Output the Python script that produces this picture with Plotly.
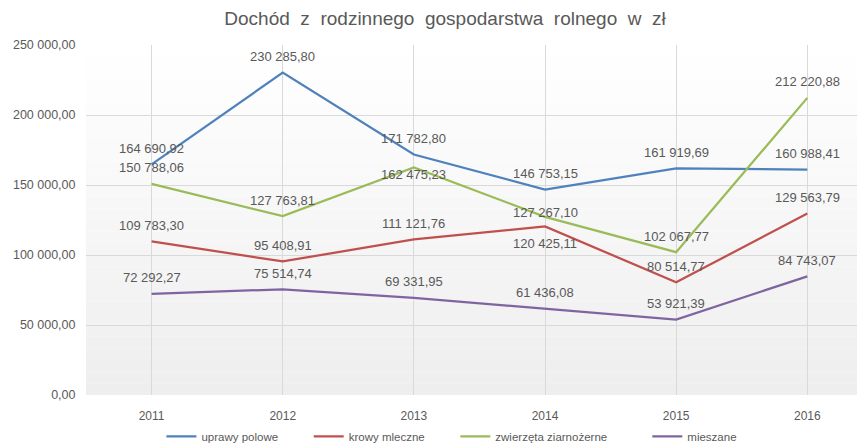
import plotly.graph_objects as go

years = ["2011", "2012", "2013", "2014", "2015", "2016"]
series_names = ["uprawy polowe", "krowy mleczne", "zwierzęta ziarnożerne", "mieszane"]
uprawy_polowe = [164690.92, 230285.80, 171782.80, 146753.15, 161919.69, 160988.41]
krowy_mleczne = [109783.30, 95408.91, 111121.76, 120425.11, 80514.77, 129563.79]
zwierzeta_ziarnozerne = [150788.06, 127763.81, 162475.23, 127267.10, 102067.77, 212220.88]
mieszane = [72292.27, 75514.74, 69331.95, 61436.08, 53921.39, 84743.07]
y_ticks = [0, 50000, 100000, 150000, 200000, 250000]

colors = ["#4F81BD", "#C0504D", "#9BBB59", "#8064A2"]
all_values = [uprawy_polowe, krowy_mleczne, zwierzeta_ziarnozerne, mieszane]

# label vertical offsets (style): default above the point
label_shift = {(1, 3): -17, (2, 3): 4, (2, 2): -7}
# extra legend spacing after each entry (style), in non-breaking spaces
legend_pad = [8, 8, 11, 0]

FONT = "Liberation Sans"
GRAY = "#595959"


def fmt(v):
    return f"{v:,.2f}".replace(",", " ").replace(".", ",")


fig = go.Figure()
annotations = []
xs = list(range(len(years)))
for si, (name, vals, col) in enumerate(zip(series_names, all_values, colors)):
    fig.add_trace(go.Scatter(
        x=xs, y=vals, name=name + "\u00a0" * legend_pad[si], mode="lines",
        line=dict(color=col, width=2.25),
        hovertemplate="%{y:,.2f}<extra>" + name + "</extra>",
    ))
    for i, v in enumerate(vals):
        annotations.append(dict(
            x=xs[i], y=v, xref="x", yref="y", text=fmt(v), showarrow=False,
            yshift=label_shift.get((si, i), 16),
            font=dict(family=FONT, size=13, color=GRAY),
        ))

# subtle vertical gradient background of the plot area (white -> light grey)
shapes = []
steps = 30
for k in range(steps):
    t = k / (steps - 1)
    c = int(round(255 - t * 17))
    shapes.append(dict(
        type="rect", xref="paper", yref="paper", layer="below",
        x0=0, x1=1, y0=1 - (k + 1) / steps, y1=1 - k / steps,
        fillcolor=f"rgb({c},{c},{c})", line=dict(width=0),
    ))

# the page body adds an 8px margin, so the figure is sized to fit the window
fig.update_layout(
    width=857, height=437,
    margin=dict(l=78, r=0, t=37, b=50, autoexpand=False),
    paper_bgcolor="white", plot_bgcolor="white",
    separators=", ",
    title=dict(text="Dochód  z  rodzinnego  gospodarstwa  rolnego  w  zł",
               x=0.51, xanchor="center", xref="container",
               y=0.977, yanchor="middle", yref="container",
               font=dict(family=FONT, size=19, color=GRAY)),
    xaxis=dict(
        tickmode="array", tickvals=xs, ticktext=years, automargin=False,
        range=[-0.5, 5.44], showgrid=True, gridcolor="#D9D9D9", gridwidth=1,
        zeroline=False, showline=False,
        ticks="outside", ticklen=10, tickcolor="rgba(0,0,0,0)",
        tickfont=dict(family=FONT, size=12, color=GRAY),
    ),
    yaxis=dict(
        range=[0, 250000], tickvals=y_ticks, tickformat=",.2f", automargin=False,
        showgrid=True, gridcolor="#D9D9D9", gridwidth=1,
        zeroline=False, showline=False,
        ticks="outside", ticklen=7, tickcolor="rgba(0,0,0,0)",
        tickfont=dict(family=FONT, size=12.5, color=GRAY),
    ),
    legend=dict(orientation="h", x=0.518, xanchor="center", xref="container",
                y=0.02, yanchor="middle", yref="container",
                font=dict(family=FONT, size=11.5, color=GRAY),
                itemwidth=30, tracegroupgap=0),
    annotations=annotations,
    shapes=shapes,
    showlegend=True,
)

fig.write_html("out.html")
